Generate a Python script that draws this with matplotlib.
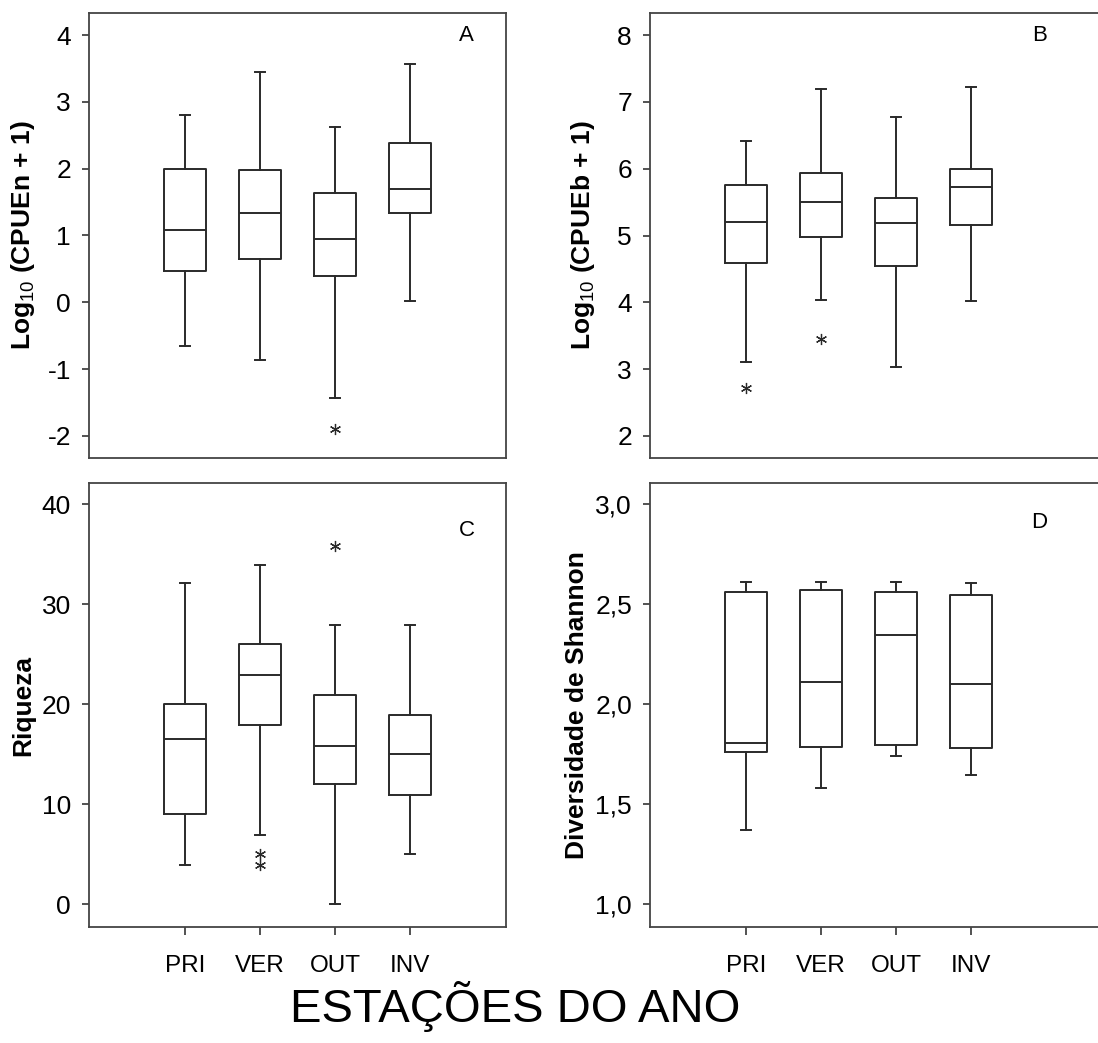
import matplotlib
matplotlib.use("Agg")
import matplotlib.pyplot as plt

plt.rcParams['font.family'] = ['Liberation Sans', 'DejaVu Sans']
plt.rcParams['mathtext.fontset'] = 'custom'
plt.rcParams['mathtext.rm'] = 'Liberation Sans'
plt.rcParams['mathtext.it'] = 'Liberation Sans:italic'
plt.rcParams['mathtext.bf'] = 'Liberation Sans:bold'

seasons = ["PRI", "VER", "OUT", "INV"]

# five-number summaries per season: whisker low, Q1, median, Q3, whisker high
cpuen_lo = [-0.66, -0.86, -1.43, 0.02]
cpuen_q1 = [0.47, 0.65, 0.39, 1.34]
cpuen_med = [1.08, 1.33, 0.95, 1.70]
cpuen_q3 = [1.99, 1.98, 1.64, 2.39]
cpuen_hi = [2.81, 3.44, 2.63, 3.57]
cpuen_out = [[], [], [-1.89], []]

cpueb_lo = [3.10, 4.04, 3.03, 4.02]
cpueb_q1 = [4.59, 4.98, 4.54, 5.15]
cpueb_med = [5.20, 5.50, 5.18, 5.72]
cpueb_q3 = [5.76, 5.93, 5.56, 5.99]
cpueb_hi = [6.42, 7.20, 6.78, 7.22]
cpueb_out = [[2.72], [3.45], [], []]

riq_lo = [3.9, 6.9, 0.0, 5.0]
riq_q1 = [9.0, 17.9, 12.0, 10.9]
riq_med = [16.5, 22.9, 15.8, 15.0]
riq_q3 = [20.0, 26.0, 20.9, 18.9]
riq_hi = [32.1, 33.9, 27.9, 27.9]
riq_out = [[], [5.0, 3.9], [35.8], []]

shan_lo = [1.37, 1.58, 1.74, 1.645]
shan_q1 = [1.76, 1.785, 1.797, 1.78]
shan_med = [1.805, 2.11, 2.345, 2.10]
shan_q3 = [2.56, 2.57, 2.56, 2.545]
shan_hi = [2.61, 2.61, 2.61, 2.605]
shan_out = [[], [], [], []]


def make_stats(lo, q1, med, q3, hi, out):
    stats = []
    for i in range(len(lo)):
        stats.append(dict(whislo=lo[i], q1=q1[i], med=med[i], q3=q3[i],
                          whishi=hi[i], fliers=out[i]))
    return stats


W, H = 1098, 1043
fig = plt.figure(figsize=(W / 100, H / 100), dpi=100)

def px_axes(left, top, right, bottom):
    return fig.add_axes([left / W, 1 - bottom / H, (right - left) / W, (bottom - top) / H])

axA = px_axes(89, 13, 506, 458)
axB = px_axes(650, 13, 1110, 458)
axC = px_axes(89, 483, 506, 927)
axD = px_axes(650, 483, 1110, 927)

ink = '#2a2a2a'
line = dict(color=ink, linewidth=1.4)

panels = [
    (axA, make_stats(cpuen_lo, cpuen_q1, cpuen_med, cpuen_q3, cpuen_hi, cpuen_out),
     (-2.33, 4.33), [-2, -1, 0, 1, 2, 3, 4], ["-2", "-1", "0", "1", "2", "3", "4"],
     "Log$_{10}$ (CPUEn + 1)", "A", (0.906, 0.95)),
    (axB, make_stats(cpueb_lo, cpueb_q1, cpueb_med, cpueb_q3, cpueb_hi, cpueb_out),
     (1.67, 8.33), [2, 3, 4, 5, 6, 7, 8], ["2", "3", "4", "5", "6", "7", "8"],
     "Log$_{10}$ (CPUEb + 1)", "B", (0.846, 0.95)),
    (axC, make_stats(riq_lo, riq_q1, riq_med, riq_q3, riq_hi, riq_out),
     (-2.27, 42.1), [0, 10, 20, 30, 40], ["0", "10", "20", "30", "40"],
     "Riqueza", "C", (0.906, 0.892)),
    (axD, make_stats(shan_lo, shan_q1, shan_med, shan_q3, shan_hi, shan_out),
     (0.886, 3.105), [1.0, 1.5, 2.0, 2.5, 3.0], ["1,0", "1,5", "2,0", "2,5", "3,0"],
     "Diversidade de Shannon", "D", (0.846, 0.912)),
]

for ax, stats, ylim, yticks, ylabels, ylab, letter, lpos in panels:
    ax.bxp(stats, positions=[1, 2, 3, 4], widths=0.57, capwidths=0.13,
           boxprops=line, medianprops=line, whiskerprops=line, capprops=line,
           flierprops=dict(marker=(6, 2, 0), markersize=8, markeredgewidth=0.9,
                           markeredgecolor=ink, linestyle='none'))
    right_px = 417 if ax in (axA, axC) else 460
    ax.set_xlim(-0.28, -0.28 + right_px / 75.0)
    ax.set_ylim(*ylim)
    ax.set_yticks(yticks)
    ax.set_yticklabels(ylabels)
    ax.tick_params(axis='y', direction='out', length=5, width=1.3, color='#444444',
                   labelsize=19, pad=8)
    for s in ax.spines.values():
        s.set_color('#444444')
        s.set_linewidth(1.3)
    ax.set_ylabel(ylab, fontsize=19, fontweight='bold', va='center')
    ax.text(lpos[0], lpos[1], letter, transform=ax.transAxes, ha='center',
            va='center', fontsize=16)

for ax in (axA, axB):
    ax.set_xticks([])

for ax in (axC, axD):
    ax.set_xticks([1, 2, 3, 4])
    ax.set_xticklabels(seasons)
    ax.tick_params(axis='x', direction='out', length=6, width=1.3, color='#444444',
                   labelsize=17.5, pad=14)

axA.yaxis.set_label_coords(-0.158, 0.5)
axC.yaxis.set_label_coords(-0.158, 0.5)
axB.yaxis.set_label_coords(-0.146, 0.5)
axD.yaxis.set_label_coords(-0.159, 0.5)

fig.text(515 / W, 1 - 1006 / H, "ESTAÇÕES DO ANO", ha='center', va='center', fontsize=34)

fig.savefig("out.png", dpi=100)
